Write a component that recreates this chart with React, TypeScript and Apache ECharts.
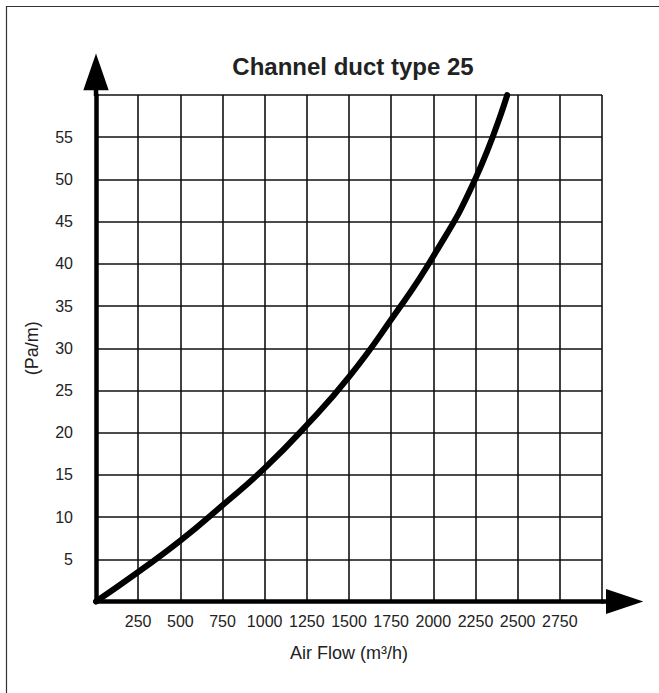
import React, { useEffect, useRef } from "react";
import * as echarts from "echarts";

const titleText = "Channel duct type 25";
const xAxisName = "Air Flow (m³/h)";
const yAxisName = "(Pa/m)";

// Air flow (m³/h) and pressure drop (Pa/m)
const airFlow = [0, 250, 500, 750, 1000, 1250, 1500, 1750, 2000, 2250, 2438];
const pressure = [0, 3.5, 7.2, 11.4, 15.8, 20.9, 26.6, 33.4, 40.9, 50.1, 60];

const xMin = 0;
const xMax = 3000;
const xStep = 250;
const yMin = 0;
const yMax = 60;
const yStep = 5;

const FONT = "'Liberation Sans', Arial, Helvetica, sans-serif";
const TEXT = "#222";
const INK = "#000";

export default function App() {
  const ref = useRef<HTMLDivElement>(null);

  useEffect(() => {
    if (!ref.current) return;
    const chart = echarts.init(ref.current, undefined, { renderer: "svg" });

    const option: any = {
      animation: false,
      backgroundColor: "#fff",
      title: {
        text: titleText,
        left: 353,
        top: 54,
        padding: 0,
        textAlign: "center",
        textStyle: { fontFamily: FONT, fontSize: 24, fontWeight: "bold", color: TEXT },
      },
      grid: { left: 96, top: 95, right: 57, bottom: 91.5, containLabel: false },
      xAxis: {
        type: "value",
        min: xMin,
        max: xMax,
        interval: xStep,
        name: xAxisName,
        nameLocation: "middle",
        nameGap: 42,
        nameTextStyle: { fontFamily: FONT, fontSize: 18, color: TEXT },
        axisLine: { show: true, lineStyle: { color: INK, width: 4.5 } },
        axisTick: { show: false },
        axisLabel: {
          showMinLabel: false,
          showMaxLabel: false,
          margin: 12,
          fontFamily: FONT,
          fontSize: 16,
          color: TEXT,
          formatter: (v: number) => String(v),
        },
        splitLine: { show: true, lineStyle: { color: "#111", width: 1.6 } },
      },
      yAxis: {
        type: "value",
        min: yMin,
        max: yMax,
        interval: yStep,
        name: yAxisName,
        nameLocation: "middle",
        nameGap: 55,
        nameRotate: 90,
        nameTextStyle: { fontFamily: FONT, fontSize: 18, color: TEXT },
        axisLine: { show: true, lineStyle: { color: INK, width: 4.5 } },
        axisTick: { show: false },
        axisLabel: {
          showMinLabel: false,
          showMaxLabel: false,
          margin: 23,
          fontFamily: FONT,
          fontSize: 16,
          color: TEXT,
          formatter: (v: number) => String(v),
        },
        splitLine: { show: true, lineStyle: { color: "#111", width: 1.6 } },
      },
      series: [
        {
          type: "line",
          data: airFlow.map((x, i) => [x, pressure[i]]),
          smooth: 0.5,
          showSymbol: false,
          clip: false,
          z: 5,
          lineStyle: { color: INK, width: 6, cap: "round", join: "round" },
        },
      ],
    };

    chart.setOption(option);

    const o = chart.convertToPixel({ gridIndex: 0 }, [xMin, yMin]) as number[];
    const e = chart.convertToPixel({ gridIndex: 0 }, [xMax, yMax]) as number[];

    chart.setOption({
      graphic: [
        {
          type: "rect",
          silent: true,
          shape: { x: 6.5, y: 6.5, width: 800, height: 800 },
          style: { fill: "none", stroke: "#333", lineWidth: 1.2 },
          z: 0,
        },
        {
          type: "line",
          silent: true,
          shape: { x1: o[0], y1: e[1] + 1, x2: o[0], y2: e[1] - 5 },
          style: { stroke: INK, lineWidth: 4.5 },
          z: 10,
        },
        {
          type: "polygon",
          silent: true,
          shape: {
            points: [
              [o[0] - 12.7, e[1] - 4.7],
              [o[0] + 12.7, e[1] - 4.7],
              [o[0], e[1] - 41.5],
            ],
          },
          style: { fill: INK },
          z: 10,
        },
        {
          type: "line",
          silent: true,
          shape: { x1: e[0] - 1, y1: o[1], x2: e[0] + 5, y2: o[1] },
          style: { stroke: INK, lineWidth: 4.5 },
          z: 10,
        },
        {
          type: "polygon",
          silent: true,
          shape: {
            points: [
              [e[0] + 4, o[1] - 12.5],
              [e[0] + 4, o[1] + 12.5],
              [e[0] + 41.3, o[1]],
            ],
          },
          style: { fill: INK },
          z: 10,
        },
      ],
    });

    return () => chart.dispose();
  }, []);

  return (
    <div
      ref={ref}
      style={{ position: "absolute", left: 0, top: 0, width: 659, height: 693 }}
    />
  );
}
